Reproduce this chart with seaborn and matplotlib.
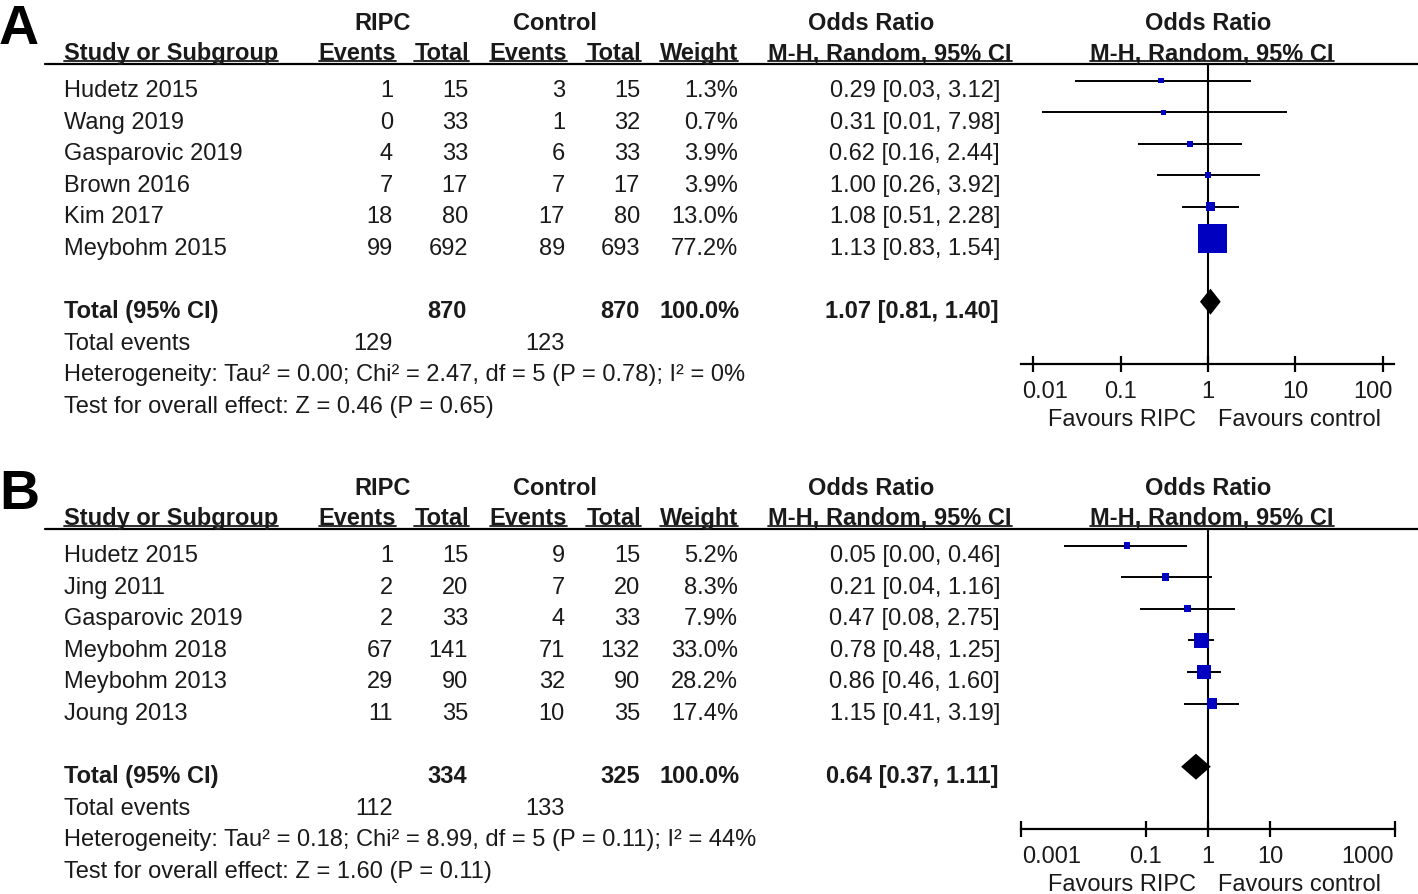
import numpy as np
import pandas as pd
import matplotlib
matplotlib.use("Agg")
import matplotlib.pyplot as plt
import seaborn as sns
from matplotlib.lines import Line2D

W, H = 1418, 895
DPI = 100

# ---- panel A data ----
a_study = ["Hudetz 2015", "Wang 2019", "Gasparovic 2019", "Brown 2016", "Kim 2017", "Meybohm 2015"]
a_ripc_ev = [1, 0, 4, 7, 18, 99]
a_ripc_n = [15, 33, 33, 17, 80, 692]
a_ctl_ev = [3, 1, 6, 7, 17, 89]
a_ctl_n = [15, 32, 33, 17, 80, 693]
a_weight = [1.3, 0.7, 3.9, 3.9, 13.0, 77.2]
a_or = [0.29, 0.31, 0.62, 1.00, 1.08, 1.13]
a_lo = [0.03, 0.0125, 0.16, 0.26, 0.51, 0.83]
a_hi = [3.12, 7.98, 2.44, 3.92, 2.28, 1.54]
a_total = [1.07, 0.81, 1.40]
a_het = "Heterogeneity: Tau² = 0.00; Chi² = 2.47, df = 5 (P = 0.78); I² = 0%"
a_test = "Test for overall effect: Z = 0.46 (P = 0.65)"
a_ticks = [0.01, 0.1, 1, 10, 100]
a_ticklabels = ["0.01", "0.1", "1", "10", "100"]

# ---- panel B data ----
b_study = ["Hudetz 2015", "Jing 2011", "Gasparovic 2019", "Meybohm 2018", "Meybohm 2013", "Joung 2013"]
b_ripc_ev = [1, 2, 2, 67, 29, 11]
b_ripc_n = [15, 20, 33, 141, 90, 35]
b_ctl_ev = [9, 7, 4, 71, 32, 10]
b_ctl_n = [15, 20, 33, 132, 90, 35]
b_weight = [5.2, 8.3, 7.9, 33.0, 28.2, 17.4]
b_or = [0.05, 0.21, 0.47, 0.78, 0.86, 1.15]
b_lo = [0.0049, 0.04, 0.08, 0.48, 0.46, 0.41]
b_hi = [0.46, 1.16, 2.75, 1.25, 1.60, 3.19]
b_total = [0.64, 0.37, 1.11]
b_het = "Heterogeneity: Tau² = 0.18; Chi² = 8.99, df = 5 (P = 0.11); I² = 44%"
b_test = "Test for overall effect: Z = 1.60 (P = 0.11)"
b_ticks = [0.001, 0.1, 1, 10, 1000]
b_ticklabels = ["0.001", "0.1", "1", "10", "1000"]

sns.set_style("white")
plt.rcParams["font.family"] = ["Liberation Sans", "DejaVu Sans"]
TXT = "#1a1a1a"
BLUE = "#0000C0"
FS = 17

fig = plt.figure(figsize=(W / DPI, H / DPI), dpi=DPI)


def ftext(x, y, s, **kw):
    kw.setdefault("fontsize", FS)
    kw.setdefault("color", TXT)
    kw.setdefault("va", "baseline")
    return fig.text(x / W, 1 - y / H, s, **kw)


def hline_px(x0, x1, y, lw=1.5):
    fig.add_artist(Line2D([x0 / W, x1 / W], [1 - y / H, 1 - y / H],
                          transform=fig.transFigure, color="black", lw=lw))


panels = [
    dict(label="A", dy=0, study=a_study, rev=a_ripc_ev, rn=a_ripc_n, cev=a_ctl_ev, cn=a_ctl_n,
         w=a_weight, orr=a_or, lo=a_lo, hi=a_hi, tot=a_total, het=a_het, test=a_test,
         ticks=a_ticks, tlab=a_ticklabels, xlim=(10 ** -2.14, 10 ** 2.13)),
    dict(label="B", dy=465, study=b_study, rev=b_ripc_ev, rn=b_ripc_n, cev=b_ctl_ev, cn=b_ctl_n,
         w=b_weight, orr=b_or, lo=b_lo, hi=b_hi, tot=b_total, het=b_het, test=b_test,
         ticks=b_ticks, tlab=b_ticklabels, xlim=(1e-3, 1e3)),
]

underlined = []
ROW = 31.6

for p in panels:
    dy = p["dy"]
    # panel letter
    ftext(-1, 44 + dy, p["label"], fontsize=40, fontweight="bold", color="black")

    # header
    ftext(383, 30 + dy, "RIPC", ha="center", fontweight="bold")
    ftext(555, 30 + dy, "Control", ha="center", fontweight="bold")
    ftext(871, 30 + dy, "Odds Ratio", ha="center", fontweight="bold")
    ftext(1208, 30 + dy, "Odds Ratio", ha="center", fontweight="bold")
    hdr = [(64, "left", "Study or Subgroup"), (396, "right", "Events"), (469, "right", "Total"),
           (567, "right", "Events"), (641, "right", "Total"), (738, "right", "Weight"),
           (890, "center", "M-H, Random, 95% CI"), (1212, "center", "M-H, Random, 95% CI")]
    for x, ha, s in hdr:
        underlined.append(ftext(x, 60 + dy, s, ha=ha, fontweight="bold"))
    hline_px(45, 1418, 65 + dy, lw=1.6)

    # study rows
    base = 97 + dy
    for i in range(len(p["study"])):
        y = base + ROW * i
        ftext(64, y, p["study"][i])
        ftext(393, y, str(p["rev"][i]), ha="right")
        ftext(468, y, str(p["rn"][i]), ha="right")
        ftext(565, y, str(p["cev"][i]), ha="right")
        ftext(640, y, str(p["cn"][i]), ha="right")
        ftext(738, y, f"{p['w'][i]:.1f}%", ha="right")
        ftext(1000, y, f"{p['orr'][i]:.2f} [{p['lo'][i]:.2f}, {p['hi'][i]:.2f}]", ha="right")

    # total rows
    y = base + ROW * 7
    ftext(64, y, "Total (95% CI)", fontweight="bold")
    ftext(467, y, str(sum(p["rn"])), ha="right", fontweight="bold")
    ftext(640, y, str(sum(p["cn"])), ha="right", fontweight="bold")
    ftext(740, y, "100.0%", ha="right", fontweight="bold")
    t = p["tot"]
    ftext(999, y, f"{t[0]:.2f} [{t[1]:.2f}, {t[2]:.2f}]", ha="right", fontweight="bold")
    y = base + ROW * 8
    ftext(64, y, "Total events")
    ftext(393, y, str(sum(p["rev"])), ha="right")
    ftext(565, y, str(sum(p["cev"])), ha="right")
    ftext(64, base + ROW * 9, p["het"])
    ftext(64, base + ROW * 10, p["test"])

    # forest plot axes: top at header rule, bottom at x axis
    top_px, bot_px = 65 + dy, 365 + dy
    x0, x1 = 1021, 1394 if p["label"] == "A" else 1395
    ax = fig.add_axes([x0 / W, 1 - bot_px / H, (x1 - x0) / W, (bot_px - top_px) / H])
    first = 81.5 + dy
    ax.set_xscale("log")

    df = pd.DataFrame({"row": np.arange(len(p["study"])), "or": p["orr"],
                       "lo": p["lo"], "hi": p["hi"], "w": p["w"]})
    ax.hlines(df["row"], df["lo"], df["hi"], color="black", lw=1.4, zorder=2)
    side_pt = (4.8 + 0.31 * df["w"].to_numpy()) * 72 / DPI
    sns.scatterplot(data=df, x="or", y="row", marker="s", s=side_pt ** 2,
                    color=BLUE, linewidth=0, ax=ax, zorder=3, legend=False)
    hh = 13 / ROW
    ax.fill([t[1], t[0], t[2], t[0]], [7, 7 - hh, 7, 7 + hh], color="black", lw=0, zorder=3)
    ax.axvline(1, color="black", lw=1.5, zorder=1)

    ax.set_ylim((bot_px - first) / ROW, (top_px - first) / ROW)
    ax.set_xlim(*p["xlim"])
    ax.set_xlabel("")
    ax.set_ylabel("")
    ax.set_yticks([])
    ax.set_xticks(p["ticks"])
    # end labels are pulled inside the axis, as in RevMan
    inner = [""] + p["tlab"][1:-1] + [""]
    ax.set_xticklabels(inner)
    ax.minorticks_off()
    ax.tick_params(axis="x", bottom=True, direction="inout", length=11.5, width=1.6, pad=6,
                   labelsize=FS, colors="black", labelcolor=TXT)
    for side in ["top", "left", "right"]:
        ax.spines[side].set_visible(False)
    ax.spines["bottom"].set_linewidth(1.6)
    ax.spines["bottom"].set_color("black")
    ax.patch.set_alpha(0)
    ftext(x0 + 1, 398 + dy, p["tlab"][0], ha="left")
    ftext(x1 - 1, 398 + dy, p["tlab"][-1], ha="right")

    ftext(1196, 426 + dy, "Favours RIPC", ha="right")
    ftext(1218, 426 + dy, "Favours control", ha="left")

# underline header labels
fig.canvas.draw()
r = fig.canvas.get_renderer()
for t in underlined:
    bb = t.get_window_extent(renderer=r)
    yb = bb.y0 + 3
    fig.add_artist(Line2D([bb.x0 / W, bb.x1 / W], [yb / H, yb / H],
                          transform=fig.transFigure, color=TXT, lw=1.3))

fig.savefig("out.png", dpi=DPI, facecolor="white")
